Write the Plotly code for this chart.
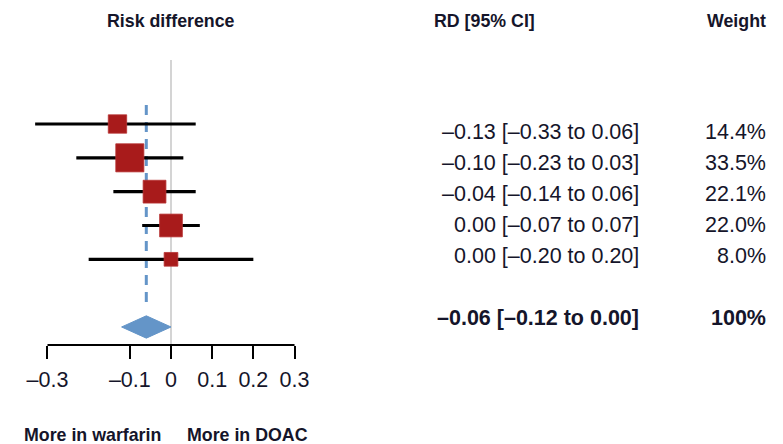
import plotly.graph_objects as go

# ---------------- data ----------------
rd = [-0.13, -0.10, -0.04, 0.00, 0.00]
ci_lo = [-0.33, -0.23, -0.14, -0.07, -0.20]
ci_hi = [0.06, 0.03, 0.06, 0.07, 0.20]
weights = [14.4, 33.5, 22.1, 22.0, 8.0]
pooled_rd = -0.06
pooled_lo = -0.12
pooled_hi = 0.00
pooled_weight = "100%"
tick_vals = [-0.3, -0.1, 0, 0.1, 0.2, 0.3]
tick_text = ["–0.3", "–0.1", "0", "0.1", "0.2", "0.3"]

# ---------------- layout constants ----------------
W, H = 783, 444
ZERO_PX = 171.0
PX_PER_UNIT = 411.7
PLOT_RIGHT_PX = 330
TOP_PX, AXIS_PX = 50, 345
ROW0_PX, ROW_STEP = 124.0, 33.83
TXT0_PX, TXT_STEP = 132.0, 31.0
SUMMARY_ROW = 6

FONT = "Liberation Sans, Arial, sans-serif"
FS = 21.5
FSH = 17.8
TXT = "#15152a"
RED = "#a81b1b"
BLUE = "#6495c8"

def fmt(v):
    s = f"{abs(v):.2f}"
    return ("–" + s) if v < 0 else s

xr = [(0 - ZERO_PX) / PX_PER_UNIT, (PLOT_RIGHT_PX - ZERO_PX) / PX_PER_UNIT]
yr = [(AXIS_PX - ROW0_PX) / ROW_STEP, (TOP_PX - ROW0_PX) / ROW_STEP]
y2r = [(AXIS_PX - TXT0_PX) / TXT_STEP, (TOP_PX - TXT0_PX) / TXT_STEP]
ydom = [1 - AXIS_PX / H, 1 - TOP_PX / H]

rows = list(range(len(rd)))
fig = go.Figure()

# zero reference line
fig.add_shape(type="line", xref="x", yref="y", x0=0, x1=0,
              y0=(60 - ROW0_PX) / ROW_STEP, y1=yr[0],
              line=dict(color="#cacaca", width=1.6), layer="below")

# pooled dashed line
fig.add_trace(go.Scatter(
    x=[pooled_rd, pooled_rd],
    y=[(105 - ROW0_PX) / ROW_STEP, (307 - ROW0_PX) / ROW_STEP],
    mode="lines", line=dict(color=BLUE, width=3, dash="10px,7px"),
    hoverinfo="skip", showlegend=False))

# CI lines
cx, cy = [], []
for r, lo, hi in zip(rows, ci_lo, ci_hi):
    cx += [lo, hi, None]
    cy += [r, r, None]
fig.add_trace(go.Scatter(x=cx, y=cy, mode="lines",
                         line=dict(color="black", width=3.2),
                         showlegend=False, hoverinfo="skip"))

# squares
fig.add_trace(go.Scatter(
    x=rd, y=rows, mode="markers",
    marker=dict(symbol="square", color=RED, opacity=1,
                size=[4.85 * w ** 0.5 for w in weights],
                line=dict(color="#b83232", width=0.8)),
    showlegend=False))

# diamond
dh = 0.33
fig.add_trace(go.Scatter(
    x=[pooled_lo, pooled_rd, pooled_hi, pooled_rd, pooled_lo],
    y=[SUMMARY_ROW, SUMMARY_ROW - dh, SUMMARY_ROW, SUMMARY_ROW + dh, SUMMARY_ROW],
    mode="lines", fill="toself", fillcolor=BLUE,
    line=dict(color=BLUE, width=1), showlegend=False))

# bottom axis line from -0.3 to 0.3
fig.add_shape(type="line", xref="x", yref="y domain",
              x0=tick_vals[0], x1=tick_vals[-1], y0=0, y1=0,
              line=dict(color="black", width=2))

def f(size=FS):
    return dict(size=size, color=TXT, family=FONT)

# text columns
ann = []
for i in rows:
    ann.append(dict(x=641 / W, y=i, xref="paper", yref="y2", xanchor="right", yanchor="middle",
                    text=f"{fmt(rd[i])} [{fmt(ci_lo[i])} to {fmt(ci_hi[i])}]",
                    showarrow=False, font=f()))
    ann.append(dict(x=768 / W, y=i, xref="paper", yref="y2", xanchor="right", yanchor="middle",
                    text=f"{weights[i]:.1f}%", showarrow=False, font=f()))
ann.append(dict(x=641 / W, y=SUMMARY_ROW, xref="paper", yref="y2", xanchor="right",
                yanchor="middle",
                text=f"<b>{fmt(pooled_rd)} [{fmt(pooled_lo)} to {fmt(pooled_hi)}]</b>",
                showarrow=False, font=f()))
ann.append(dict(x=768 / W, y=SUMMARY_ROW, xref="paper", yref="y2", xanchor="right",
                yanchor="middle", text=f"<b>{pooled_weight}</b>", showarrow=False, font=f()))

# headers
HY = 1 - 21 / H
ann.append(dict(x=0, y=HY, xref="x", yref="paper", yanchor="middle",
                text="<b>Risk difference</b>", showarrow=False, font=f(FSH)))
ann.append(dict(x=537 / W, y=HY, xref="paper", yref="paper", yanchor="middle",
                text="<b>RD [95% CI]</b>", showarrow=False, font=f(FSH)))
ann.append(dict(x=768 / W, y=HY, xref="paper", yref="paper", xanchor="right", yanchor="middle",
                text="<b>Weight</b>", showarrow=False, font=f(FSH)))

# bottom direction labels
BY = 1 - 435 / H
ann.append(dict(x=-0.19, y=BY, xref="x", yref="paper", yanchor="middle",
                text="<b>More in warfarin</b>", showarrow=False, font=f(FSH)))
ann.append(dict(x=0.185, y=BY, xref="x", yref="paper", yanchor="middle",
                text="<b>More in DOAC</b>", showarrow=False, font=f(FSH)))

fig.update_layout(
    width=W, height=H, margin=dict(l=0, r=0, t=0, b=0, pad=0),
    paper_bgcolor="white", plot_bgcolor="white",
    showlegend=False, annotations=ann,
    xaxis=dict(domain=[0, PLOT_RIGHT_PX / W], range=xr, showgrid=False, zeroline=False,
               showline=False, tickmode="array", tickvals=tick_vals, ticktext=tick_text,
               ticks="outside", ticklen=13, tickwidth=2, tickcolor="black",
               ticklabelstandoff=2, tickfont=f(), fixedrange=True),
    yaxis=dict(domain=ydom, range=yr, visible=False, fixedrange=True),
    yaxis2=dict(domain=ydom, range=y2r, visible=False, anchor="x", overlaying="y"),
)

post = """
var st = document.createElement('style');
st.innerHTML = 'html,body{margin:0;padding:0;}';
document.head.appendChild(st);
"""
fig.write_html("out.html", post_script=post, config={"displayModeBar": False})
